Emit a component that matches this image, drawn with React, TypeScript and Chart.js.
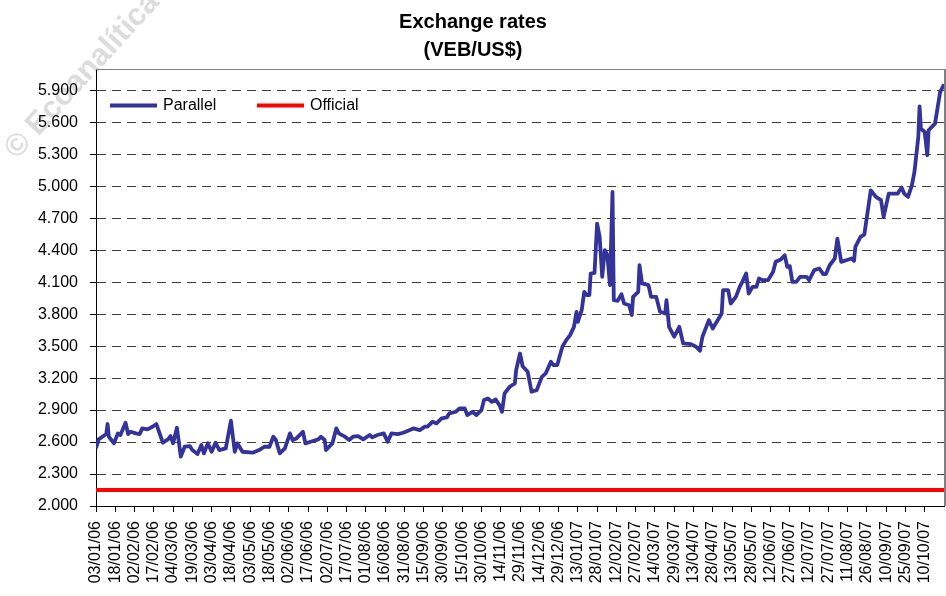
import React, { useEffect, useRef } from 'react';
import { Chart, registerables } from 'chart.js';

Chart.register(...registerables);

// Days since 03/01/06
const days = [0,2,5,8,9,10,14,17,19,23,25,27,31,34,36,40,44,47,52,56,58,60,63,66,69,73,75,79,82,84,87,90,93,96,101,105,108,110,114,122,127,131,135,138,140,143,147,151,153,156,161,163,167,173,175,178,179,184,187,189,193,197,200,204,208,213,215,219,224,227,230,235,239,241,247,252,256,258,262,265,269,273,275,280,283,287,289,293,296,300,302,305,308,311,314,316,318,322,326,327,330,332,336,339,343,347,350,354,356,359,363,366,369,372,374,375,378,380,382,384,385,388,390,392,394,396,398,400,402,403,406,409,411,415,417,418,422,423,425,430,432,436,439,443,444,446,450,454,457,463,467,470,472,477,480,487,488,492,494,498,501,503,506,508,511,514,516,519,523,527,529,533,536,538,540,542,545,548,553,555,559,563,566,568,571,575,577,580,584,588,590,591,595,598,603,607,611,613,617,624,627,629,632,635,637,640,641,642,645,647,648,653,657,660];

// Parallel rate (VEB/US$)
const parallel = [2541,2625,2650,2675,2769,2650,2588,2681,2666,2781,2675,2697,2681,2675,2728,2719,2744,2769,2594,2625,2656,2588,2734,2463,2556,2562,2525,2488,2572,2494,2588,2509,2594,2525,2541,2800,2509,2588,2509,2500,2525,2556,2556,2650,2619,2494,2541,2681,2619,2634,2697,2588,2603,2625,2650,2619,2525,2588,2728,2681,2656,2619,2650,2656,2625,2666,2644,2666,2681,2603,2681,2675,2687,2697,2728,2712,2744,2744,2791,2775,2822,2831,2869,2884,2916,2916,2853,2884,2853,2900,2994,3009,2978,3000,2947,2884,3056,3119,3150,3275,3431,3312,3259,3072,3087,3212,3244,3353,3322,3322,3494,3556,3603,3681,3822,3728,3837,4009,3978,3978,4181,4188,4650,4525,4150,4400,4353,4072,4947,3931,3925,3987,3900,3884,3791,3962,4009,4259,4088,4072,3962,3962,3822,3806,3931,3681,3588,3681,3525,3519,3494,3456,3588,3744,3666,3806,4025,4025,3900,3962,4056,4103,4181,3994,4056,4056,4134,4119,4119,4197,4291,4313,4353,4244,4250,4103,4103,4150,4150,4119,4213,4228,4175,4175,4259,4322,4509,4291,4306,4322,4300,4431,4525,4547,4962,4900,4869,4712,4931,4931,4988,4931,4900,5009,5134,5462,5750,5541,5509,5291,5525,5588,5884,5956];

const officialRate = 2150;

const xTickLabels = ['03/01/06','18/01/06','02/02/06','17/02/06','04/03/06','19/03/06','03/04/06','18/04/06','03/05/06','18/05/06','02/06/06','17/06/06','02/07/06','17/07/06','01/08/06','16/08/06','31/08/06','15/09/06','30/09/06','15/10/06','30/10/06','14/11/06','29/11/06','14/12/06','29/12/06','13/01/07','28/01/07','12/02/07','27/02/07','14/03/07','29/03/07','13/04/07','28/04/07','13/05/07','28/05/07','12/06/07','27/06/07','12/07/07','27/07/07','11/08/07','26/08/07','10/09/07','25/09/07','10/10/07'];

const yTickValues = [2000,2300,2600,2900,3200,3500,3800,4100,4400,4700,5000,5300,5600,5900];

const seriesNames = ['Parallel', 'Official'];
const seriesColors = ['#333399', '#ff0000'];

const FONT = '"Liberation Sans", Arial, Helvetica, sans-serif';

export default function App() {
  const ref = useRef<HTMLCanvasElement>(null);

  useEffect(() => {
    document.body.style.margin = '0';
    const canvas = ref.current!;

    const overlay = {
      id: 'overlay',
      beforeDraw(chart: any) {
        const ctx = chart.ctx;
        ctx.save();
        ctx.translate(17, 160);
        ctx.rotate(-0.83);
        ctx.font = `bold 31px ${FONT}`;
        ctx.fillStyle = '#dcdcdc';
        ctx.textBaseline = 'alphabetic';
        ctx.fillText('© Ecoanalítica', 0, 0);
        ctx.restore();
      },
      afterDraw(chart: any) {
        const ctx = chart.ctx;
        const a = chart.chartArea;
        ctx.save();
        // plot frame (top & right)
        ctx.strokeStyle = '#808080';
        ctx.lineWidth = 1;
        ctx.beginPath();
        ctx.moveTo(a.left, a.top + 0.5);
        ctx.lineTo(a.right, a.top + 0.5);
        ctx.stroke();
        ctx.lineWidth = 2;
        ctx.beginPath();
        ctx.moveTo(a.right + 1, a.top);
        ctx.lineTo(a.right + 1, a.bottom);
        ctx.stroke();
        // title
        ctx.fillStyle = '#000';
        ctx.font = `bold 20px ${FONT}`;
        ctx.textAlign = 'center';
        ctx.textBaseline = 'middle';
        ctx.fillText('Exchange rates', 473, 22);
        ctx.fillText('(VEB/US$)', 473, 50);
        // legend
        const items = [
          { x: 110, label: seriesNames[0], color: seriesColors[0] },
          { x: 257, label: seriesNames[1], color: seriesColors[1] },
        ];
        ctx.textAlign = 'left';
        ctx.font = `16px ${FONT}`;
        for (const it of items) {
          ctx.strokeStyle = it.color;
          ctx.lineWidth = 4;
          ctx.beginPath();
          ctx.moveTo(it.x, 105.5);
          ctx.lineTo(it.x + 47, 105.5);
          ctx.stroke();
          ctx.fillStyle = '#000';
          ctx.fillText(it.label, it.x + 53, 106);
        }
        ctx.restore();
      },
    };

    const chart = new Chart(canvas, {
      type: 'line',
      data: {
        datasets: [
          {
            label: seriesNames[0],
            data: days.map((d, i) => ({ x: d, y: parallel[i] })),
            borderColor: seriesColors[0],
            backgroundColor: seriesColors[0],
            borderWidth: 3.8,
            pointRadius: 0,
            tension: 0,
            borderJoinStyle: 'round',
          },
          {
            label: seriesNames[1],
            data: [days[0], days[days.length - 1]].map((d) => ({ x: d, y: officialRate })),
            borderColor: seriesColors[1],
            backgroundColor: seriesColors[1],
            borderWidth: 4,
            pointRadius: 0,
          },
        ],
      },
      options: {
        animation: false,
        responsive: false,
        layout: { padding: { top: 69, right: 2, left: 0, bottom: 0 } },
        plugins: {
          legend: { display: false },
          title: { display: false },
          tooltip: { enabled: false },
        },
        scales: {
          x: {
            type: 'linear',
            min: 0,
            max: 660,
            afterFit(scale: any) {
              scale.height = 90;
              scale.paddingLeft = 0;
              scale.paddingRight = 0;
            },
            afterBuildTicks(scale: any) {
              scale.ticks = xTickLabels.map((_, i) => ({ value: i * 15 }));
            },
            ticks: {
              autoSkip: false,
              maxRotation: 90,
              minRotation: 90,
              padding: 9,
              color: '#000',
              font: { family: FONT, size: 16 },
              callback: (value: any) => xTickLabels[Math.round(Number(value) / 15)] ?? '',
            },
            grid: {
              display: true,
              drawOnChartArea: false,
              drawTicks: true,
              tickLength: 6,
              color: '#000',
              tickColor: '#000',
            },
            border: { display: true, color: '#000', width: 1 },
          },
          y: {
            type: 'linear',
            min: 2000,
            max: 6100,
            afterFit(scale: any) {
              scale.width = 96;
              scale.paddingTop = 0;
              scale.paddingBottom = 0;
            },
            afterBuildTicks(scale: any) {
              scale.ticks = yTickValues.map((v) => ({ value: v }));
            },
            ticks: {
              padding: 12,
              color: '#000',
              font: { family: FONT, size: 16 },
              callback: (value: any) => {
                const v = Number(value);
                return `${Math.floor(v / 1000)}.${String(v % 1000).padStart(3, '0')}`;
              },
            },
            grid: {
              display: true,
              color: '#404040',
              lineWidth: 1,
              drawTicks: true,
              tickLength: 6,
              tickColor: '#000',
              tickBorderDash: [],
            },
            border: { display: true, color: '#000', width: 1, dash: [9, 6] },
          },
        },
      },
      plugins: [overlay],
    });

    return () => chart.destroy();
  }, []);

  return (
    <div style={{ width: 946, height: 596 }}>
      <canvas ref={ref} width={946} height={596} style={{ display: 'block' }} />
    </div>
  );
}
